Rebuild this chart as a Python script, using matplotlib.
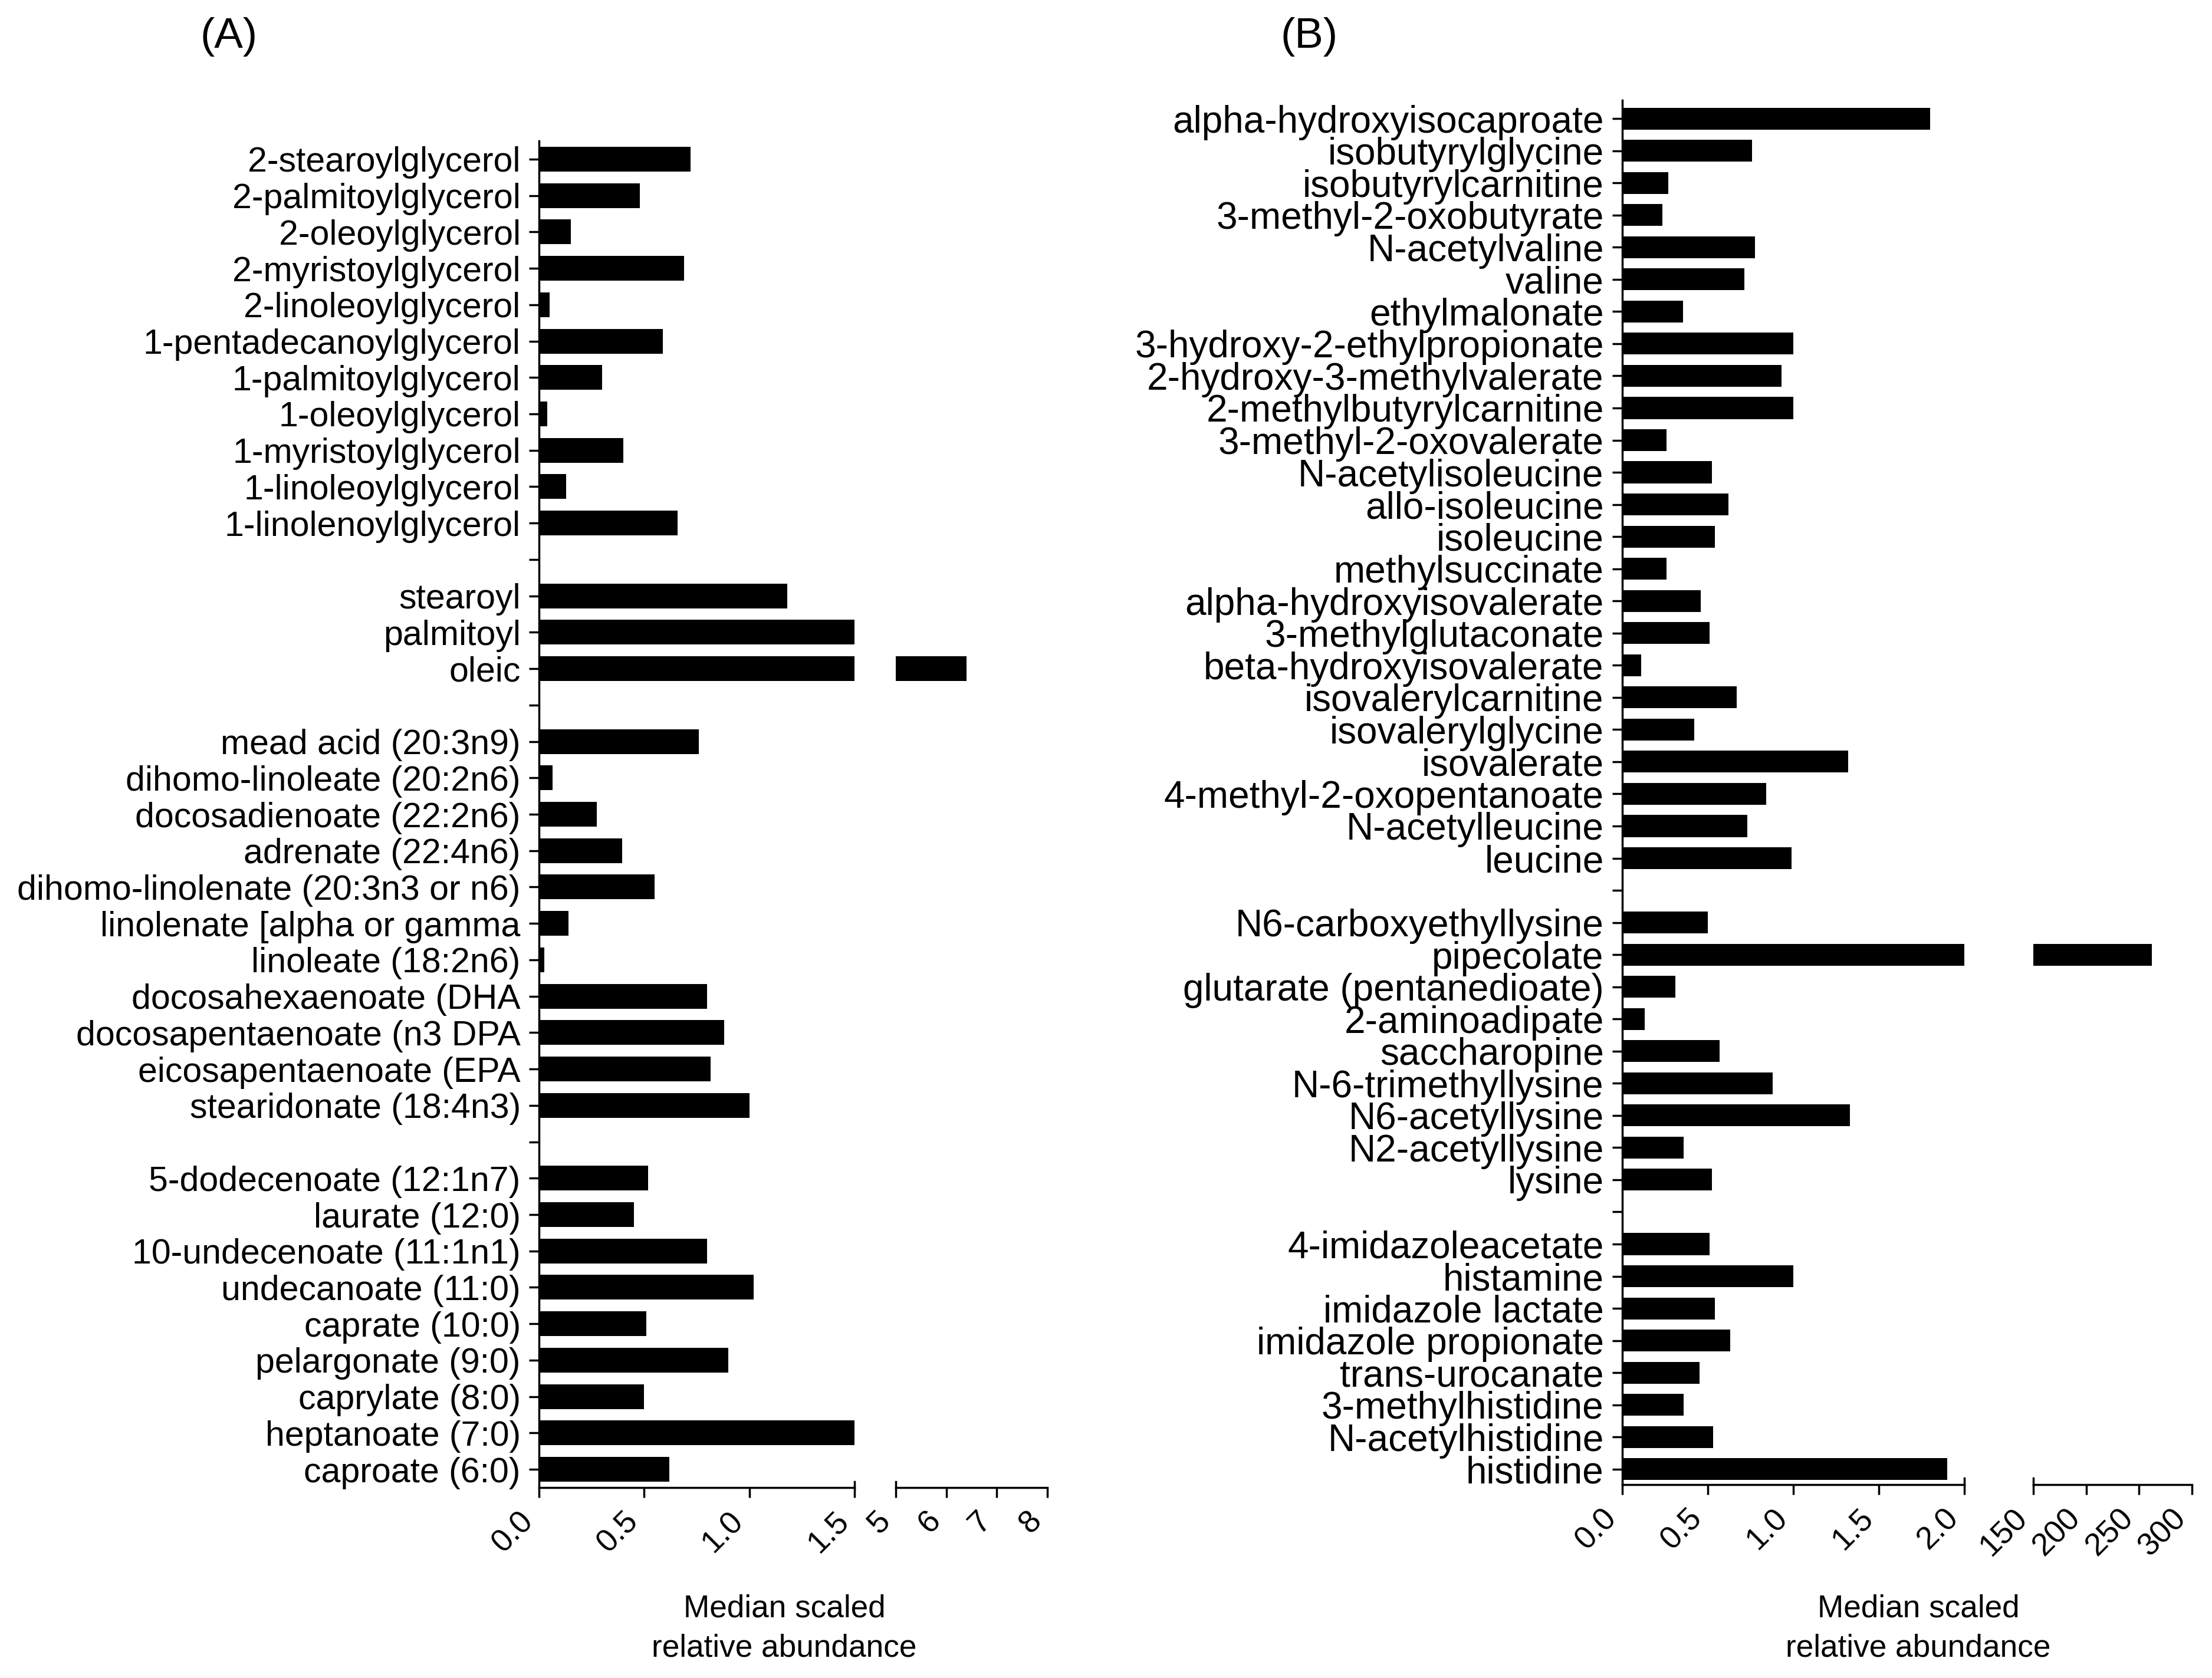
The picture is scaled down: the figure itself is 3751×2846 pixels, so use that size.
import numpy as np
import matplotlib.pyplot as plt

plt.rcParams['font.family'] = ['Liberation Sans', 'DejaVu Sans']

# ---- panel A data ----
glycerol_labels = ["2-stearoylglycerol", "2-palmitoylglycerol", "2-oleoylglycerol",
                   "2-myristoylglycerol", "2-linoleoylglycerol", "1-pentadecanoylglycerol",
                   "1-palmitoylglycerol", "1-oleoylglycerol", "1-myristoylglycerol",
                   "1-linoleoylglycerol", "1-linolenoylglycerol"]
glycerol_vals = [0.72, 0.48, 0.15, 0.69, 0.05, 0.59, 0.30, 0.04, 0.40, 0.13, 0.66]

acyl_labels = ["stearoyl", "palmitoyl", "oleic"]
acyl_vals = [1.18, 1.5, 6.4]

pufa_labels = ["mead acid (20:3n9)", "dihomo-linoleate (20:2n6)", "docosadienoate (22:2n6)",
               "adrenate (22:4n6)", "dihomo-linolenate (20:3n3 or n6)",
               "linolenate [alpha or gamma", "linoleate (18:2n6)", "docosahexaenoate (DHA",
               "docosapentaenoate (n3 DPA", "eicosapentaenoate (EPA", "stearidonate (18:4n3)"]
pufa_vals = [0.76, 0.065, 0.275, 0.395, 0.55, 0.14, 0.025, 0.80, 0.88, 0.815, 1.0]

mcfa_labels = ["5-dodecenoate (12:1n7)", "laurate (12:0)", "10-undecenoate (11:1n1)",
               "undecanoate (11:0)", "caprate (10:0)", "pelargonate (9:0)",
               "caprylate (8:0)", "heptanoate (7:0)", "caproate (6:0)"]
mcfa_vals = [0.52, 0.45, 0.80, 1.02, 0.51, 0.90, 0.50, 1.5, 0.62]

# ---- panel B data ----
bcaa_labels = ["alpha-hydroxyisocaproate", "isobutyrylglycine", "isobutyrylcarnitine",
               "3-methyl-2-oxobutyrate", "N-acetylvaline", "valine", "ethylmalonate",
               "3-hydroxy-2-ethylpropionate", "2-hydroxy-3-methylvalerate",
               "2-methylbutyrylcarnitine", "3-methyl-2-oxovalerate", "N-acetylisoleucine",
               "allo-isoleucine", "isoleucine", "methylsuccinate", "alpha-hydroxyisovalerate",
               "3-methylglutaconate", "beta-hydroxyisovalerate", "isovalerylcarnitine",
               "isovalerylglycine", "isovalerate", "4-methyl-2-oxopentanoate",
               "N-acetylleucine", "leucine"]
bcaa_vals = [1.80, 0.76, 0.27, 0.235, 0.775, 0.715, 0.355, 1.0, 0.93, 1.0, 0.26, 0.525,
             0.62, 0.54, 0.26, 0.46, 0.51, 0.11, 0.67, 0.42, 1.32, 0.84, 0.73, 0.99]

lysine_labels = ["N6-carboxyethyllysine", "pipecolate", "glutarate (pentanedioate)",
                 "2-aminoadipate", "saccharopine", "N-6-trimethyllysine", "N6-acetyllysine",
                 "N2-acetyllysine", "lysine"]
lysine_vals = [0.50, 262, 0.31, 0.13, 0.57, 0.88, 1.33, 0.36, 0.525]

histidine_labels = ["4-imidazoleacetate", "histamine", "imidazole lactate",
                    "imidazole propionate", "trans-urocanate", "3-methylhistidine",
                    "N-acetylhistidine", "histidine"]
histidine_vals = [0.51, 1.0, 0.54, 0.63, 0.45, 0.36, 0.53, 1.90]

W, H = 3751, 2846
fig = plt.figure(figsize=(W / 250, H / 250), dpi=250)


def box(x0, y0, x1, y1):
    return [x0 / W, 1 - y1 / H, (x1 - x0) / W, (y1 - y0) / H]


def build(groups):
    labels, vals = [], []
    for i, (lab, val) in enumerate(groups):
        if i:
            labels.append("")
            vals.append(0.0)
        labels += lab
        vals += val
    return labels, np.array(vals)


def panel(groups, lbox, rbox, lticks, lticklabels, rticks, rticklabels, ylim, fs):
    labels, vals = build(groups)
    y = np.arange(len(labels))
    axl = fig.add_axes(lbox)
    axr = fig.add_axes(rbox, sharey=axl)
    for ax in (axl, axr):
        ax.barh(y, vals, height=0.68, color="black")
        for s in ("top", "right"):
            ax.spines[s].set_visible(False)
        ax.spines["bottom"].set_linewidth(1.0)
        ax.tick_params(axis="x", length=5, width=1.0, pad=4, labelsize=15.5)
    axl.spines["left"].set_linewidth(1.0)
    axr.spines["left"].set_visible(False)
    axl.set_xlim(lticks[0], lticks[-1])
    axr.set_xlim(rticks[0], rticks[-1])
    axl.set_xticks(lticks)
    axl.set_xticklabels(lticklabels, rotation=45, ha="right", va="top")
    axr.set_xticks(rticks)
    axr.set_xticklabels(rticklabels, rotation=45, ha="right", va="top")
    axl.set_yticks(y)
    axl.set_yticklabels(labels, fontsize=fs)
    axl.tick_params(axis="y", length=5, width=1.0, pad=4)
    axr.tick_params(axis="y", left=False, labelleft=False)
    axl.set_ylim(*ylim)
    # break marks: end ticks poke above the axis line
    axl.plot([1, 1], [0, 0.0045], transform=axl.transAxes, color="black", lw=1.0, clip_on=False)
    axr.plot([0, 0], [0, 0.0045], transform=axr.transAxes, color="black", lw=1.0, clip_on=False)
    return axl, axr


panel([(glycerol_labels, glycerol_vals), (acyl_labels, acyl_vals),
       (pufa_labels, pufa_vals), (mcfa_labels, mcfa_vals)],
      box(914, 239, 1449, 2523), box(1519, 239, 1776, 2523),
      [0, 0.5, 1.0, 1.5], ["0.0", "0.5", "1.0", "1.5"],
      [5, 6, 7, 8], ["5", "6", "7", "8"], (36.5, -0.5), 17)

panel([(bcaa_labels, bcaa_vals), (lysine_labels, lysine_vals),
       (histidine_labels, histidine_vals)],
      box(2751, 170, 3331, 2518), box(3448, 170, 3717, 2518),
      [0, 0.5, 1.0, 1.5, 2.0], ["0.0", "0.5", "1.0", "1.5", "2.0"],
      [150, 200, 250, 300], ["150", "200", "250", "300"], (42.48, -0.57), 18.4)

for xc, txt in ((1330, "Median scaled\nrelative abundance"),
                (3253, "Median scaled\nrelative abundance")):
    fig.text(xc / W, 1 - 2762 / H, txt, ha="center", va="center", fontsize=15.3,
             linespacing=1.45)

fig.text(388 / W, 1 - 62 / H, "(A)", ha="center", va="center", fontsize=21)
fig.text(2220 / W, 1 - 62 / H, "(B)", ha="center", va="center", fontsize=21)

fig.savefig("out.png", dpi=250, facecolor="white")
